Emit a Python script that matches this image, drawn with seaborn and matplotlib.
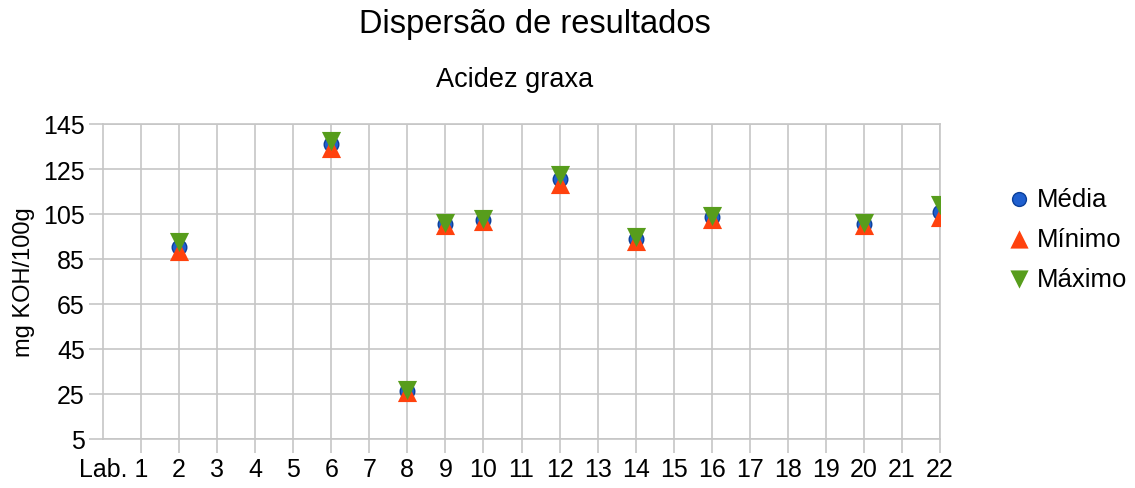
import matplotlib
matplotlib.use("Agg")
import matplotlib.pyplot as plt
import matplotlib.transforms as mtransforms
import pandas as pd
import seaborn as sns

# data
labs = [2, 6, 8, 9, 10, 12, 14, 16, 20, 22]
media = [90.5, 136, 26.3, 100.5, 102.5, 120.5, 94, 103.5, 100.5, 106]
minimo = [88.5, 134.5, 25.8, 100, 102, 118.3, 93, 103, 100, 103.7]
maximo = [92.6, 137.5, 27, 101, 103, 122.5, 94.8, 104, 101, 109]
x_labels = ["Lab. 1"] + [str(i) for i in range(2, 23)]
y_ticks = list(range(5, 146, 20))

df = pd.DataFrame({"lab": labs, "Média": media, "Mínimo": minimo, "Máximo": maximo})

sns.set_theme(style="whitegrid")
plt.rcParams["font.family"] = ["Liberation Sans", "DejaVu Sans"]
plt.rcParams["text.color"] = "black"
plt.rcParams["axes.labelcolor"] = "black"

fig = plt.figure(figsize=(11.35, 4.89), dpi=100)
ax = fig.add_axes([103 / 1135, 1 - 440 / 489, (940 - 103) / 1135, (440 - 125) / 489])

sns.scatterplot(data=df, x="lab", y="Média", ax=ax, marker="o", s=110,
                color="#1f5fcf", edgecolor="#0b3f9a", linewidth=1.0,
                label="Média", zorder=3)
sns.scatterplot(data=df, x="lab", y="Mínimo", ax=ax, marker="^", s=190,
                color="#ff420e", linewidth=0, label="Mínimo", zorder=4)
sns.scatterplot(data=df, x="lab", y="Máximo", ax=ax, marker="v", s=190,
                color="#579d1c", linewidth=0, label="Máximo", zorder=5)

ax.set_xlim(0, 22)
ax.set_ylim(5, 145)
ax.set_xticks(range(1, 23))
ax.set_xticklabels(x_labels)
ax.set_yticks(y_ticks)
ax.set_xlabel("")
ax.set_ylabel("mg KOH/100g", fontsize=17, labelpad=6)

ax.grid(True, color="#c6c6c6", linewidth=1.2)
ax.set_axisbelow(True)
for sp in ax.spines.values():
    sp.set_visible(True)
    sp.set_color("#c6c6c6")
    sp.set_linewidth(1.2)

ax.tick_params(axis="both", which="major", labelsize=18, length=10, width=1.2,
               color="#c6c6c6", labelcolor="black", direction="out",
               bottom=True, left=True, pad=3)

# first label "Lab. 1": keep the "1" centered on its tick
first = ax.get_xticklabels()[0]
first.set_horizontalalignment("right")
first.set_transform(first.get_transform() +
                    mtransforms.ScaledTranslation(7 / 100, 0, fig.dpi_scale_trans))

fig.text(535 / 1135, 1 - 24 / 489, "Dispersão de resultados", ha="center", va="center", fontsize=23.5)
fig.text(515 / 1135, 1 - 80 / 489, "Acidez graxa", ha="center", va="center", fontsize=19.5)

ax.legend_.remove()
h, l = ax.get_legend_handles_labels()
fig.legend(h, l, loc="center left", bbox_to_anchor=(0.889, 0.51), frameon=False,
           fontsize=18.5, handlelength=0.8, handletextpad=0.3, labelspacing=0.62,
           borderpad=0, borderaxespad=0, markerscale=0.95)

fig.savefig("out.png", dpi=100, facecolor="white")
